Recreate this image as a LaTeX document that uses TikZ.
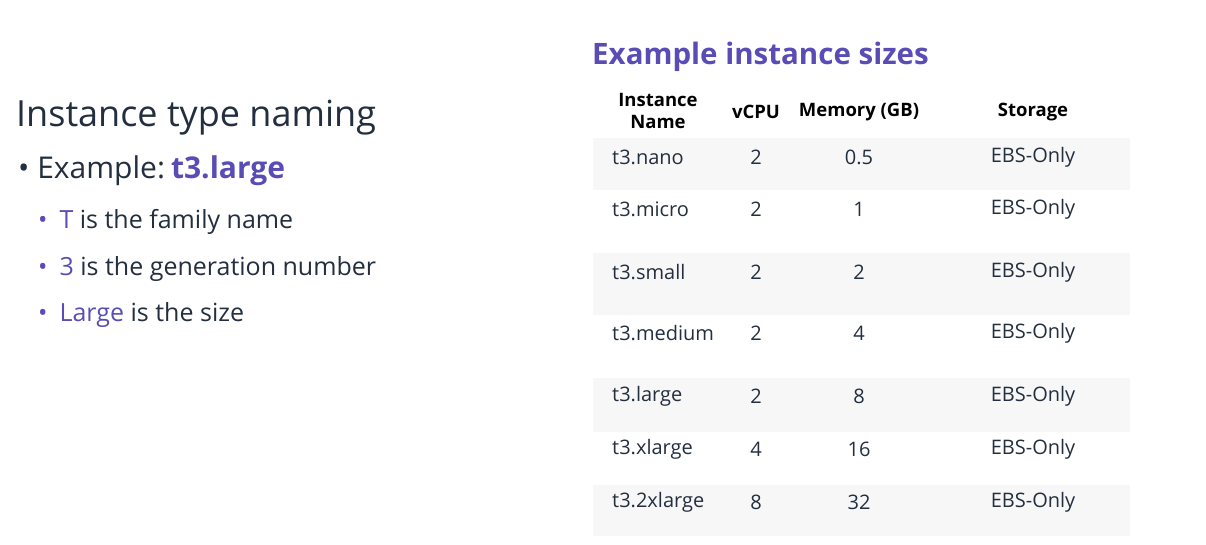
\documentclass[tikz,border=0pt]{standalone}
\usepackage{fontspec}
\setmainfont{Open Sans}
\definecolor{ink}{HTML}{232F3E}
\definecolor{accent}{HTML}{5A4CB5}
\definecolor{rowbg}{HTML}{F7F7F7}
\newcommand{\subbul}{\textcolor{accent}{\textbullet}\hspace{12pt}}
\tikzset{
  txt/.style={inner sep=0pt, text=ink},
  cell/.style={txt, font=\fontsize{20}{23}\selectfont},
  head/.style={txt, font=\fontsize{18.5}{21}\selectfont\bfseries, align=center, text=black},
}
\begin{document}
\begin{tikzpicture}[x=1pt,y=-1pt]
  \useasboundingbox (0,0) rectangle (1206,544);
  % left side
  \node[txt, anchor=west, font=\fontsize{36}{40}\selectfont] (title) at (16,118) {Instance type naming};
  \node[txt, anchor=west, font=\fontsize{30}{34}\selectfont] (ex) at (18,171) {\textbullet\ Example:\hspace{6pt}\textcolor{accent}{\bfseries t3.large}};
  \node[txt, anchor=west, font=\fontsize{25}{28}\selectfont] (fam) at (38,222) {\subbul\textcolor{accent}{T} is the family name};
  \node[txt, anchor=west, font=\fontsize{25}{28}\selectfont] (gen) at (38,269) {\subbul\textcolor{accent}{3} is the generation number};
  \node[txt, anchor=west, font=\fontsize{25}{28}\selectfont] (size) at (38,315) {\subbul\textcolor{accent}{Large} is the size};
  % table
  \node[txt, anchor=west, text=accent, font=\fontsize{29.5}{32}\selectfont\bfseries] (tab) at (592,57) {Example instance sizes};
  \foreach \ya/\yb in {138/190, 253/315, 378/432, 485/536}
    \fill[rowbg] (593,\ya) rectangle (1130,\yb);
  \node[head] (hname) at (658,111) {Instance\\[1pt]Name};
  \node[head] (hcpu) at (756,112) {vCPU};
  \node[head] (hmem) at (859,112) {Memory (GB)};
  \node[head] (hsto) at (1033,112) {Storage};
  \foreach \y/\n/\c/\m in {157/nano/2/0.5, 209/micro/2/1, 272/small/2/2, 333/medium/2/4,
                           396/large/2/8, 449/xlarge/4/16, 502/2xlarge/8/32} {
    \node[cell, anchor=west] (n\n) at (612,\y) {t3.\n};
    \node[cell] (c\n) at (756,\y) {\c};
    \node[cell] (m\n) at (859,\y) {\m};
    \node[cell] (s\n) at (1033,\y) {EBS-Only};
  }
\end{tikzpicture}
\end{document}
